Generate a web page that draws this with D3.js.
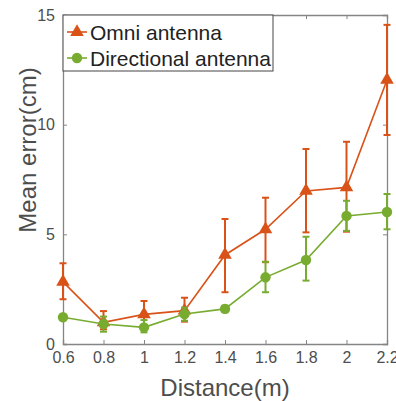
<!DOCTYPE html>
<html><head><meta charset="utf-8">
<script src="https://cdn.jsdelivr.net/npm/d3@7"></script>
<style>body{margin:0;background:#fff}svg{display:block}text{font-family:"Liberation Sans",Arial,sans-serif}</style>
</head><body><svg id="c" width="396" height="401"></svg>
<script>
const distances = [0.6, 0.8, 1.0, 1.2, 1.4, 1.6, 1.8, 2.0, 2.2];
const omniMean = [2.83, 0.99, 1.35, 1.52, 4.06, 5.23, 6.98, 7.14, 12.04];
const omniLow  = [2.04, 0.67, 0.75, 1.02, 2.36, 3.73, 5.09, 5.12, 9.53];
const omniHigh = [3.68, 1.50, 1.96, 2.11, 5.70, 6.67, 8.89, 9.22, 14.55];
const dirMean = [1.22, 0.91, 0.76, 1.37, 1.60, 3.04, 3.83, 5.84, 6.02];
const dirLow  = [1.12, 0.56, 0.53, 1.06, 1.45, 2.36, 2.89, 5.16, 5.23];
const dirHigh = [1.32, 1.25, 1.09, 1.66, 1.75, 3.75, 4.89, 6.53, 6.84];
const xTicks = [0.6, 0.8, 1, 1.2, 1.4, 1.6, 1.8, 2, 2.2];
const yTicks = [0, 5, 10, 15];
const seriesNames = ["Omni antenna", "Directional antenna"];
const colors = ["#D95319", "#77AC30"];

const svg = d3.select("#c");
const m = {l: 63, r: 387, t: 15, b: 344};
const x = d3.scaleLinear().domain([0.6, 2.2]).range([m.l, m.r]);
const y = d3.scaleLinear().domain([0, 15]).range([m.b, m.t]);
const axisCol = "#858585", labCol = "#4d4d4d";

const gx = svg.append("g").attr("transform", `translate(0,${m.b})`)
  .call(d3.axisBottom(x).tickValues(xTicks).tickSize(-4).tickPadding(8).tickFormat(d3.format("~g")));
const gxt = svg.append("g").attr("transform", `translate(0,${m.t})`)
  .call(d3.axisTop(x).tickValues(xTicks).tickSize(-4).tickFormat(""));
const gy = svg.append("g").attr("transform", `translate(${m.l},0)`)
  .call(d3.axisLeft(y).tickValues(yTicks).tickSize(-4).tickPadding(8));
const gyr = svg.append("g").attr("transform", `translate(${m.r},0)`)
  .call(d3.axisRight(y).tickValues(yTicks).tickSize(-4).tickFormat(""));
[gx, gxt, gy, gyr].forEach(g => {
  g.selectAll("path.domain").attr("stroke", axisCol).attr("stroke-width", 1.3);
  g.selectAll(".tick line").attr("stroke", axisCol).attr("stroke-width", 1);
  g.selectAll(".tick text").attr("fill", labCol).attr("font-size", 16).attr("font-family", '"Liberation Sans",Arial,sans-serif');
});

svg.append("text").attr("x", (m.l + m.r) / 2).attr("y", 396).attr("text-anchor", "middle")
  .attr("font-size", 24).attr("fill", labCol).text("Distance(m)");
svg.append("text").attr("transform", "translate(36,150) rotate(-90)").attr("text-anchor", "middle")
  .attr("font-size", 24).attr("fill", labCol).text("Mean error(cm)");

const series = [
  {mean: omniMean, lo: omniLow, hi: omniHigh, col: colors[0], marker: "tri"},
  {mean: dirMean, lo: dirLow, hi: dirHigh, col: colors[1], marker: "circ"}
];
const line = d3.line().x((d, i) => x(distances[i])).y(d => y(d));
const tri = d3.symbol().type(d3.symbolTriangle).size(80);

series.forEach(s => {
  const g = svg.append("g");
  g.append("path").datum(s.mean).attr("d", line).attr("fill", "none")
    .attr("stroke", s.col).attr("stroke-width", 1.6);
  distances.forEach((dx, i) => {
    const cx = x(dx);
    g.append("line").attr("x1", cx).attr("x2", cx).attr("y1", y(s.lo[i])).attr("y2", y(s.hi[i]))
      .attr("stroke", s.col).attr("stroke-width", 2);
    [s.lo[i], s.hi[i]].forEach(v => g.append("line").attr("x1", cx - 3.5).attr("x2", cx + 3.5)
      .attr("y1", y(v)).attr("y2", y(v)).attr("stroke", s.col).attr("stroke-width", 2));
    if (s.marker === "tri") g.append("path").attr("d", tri).attr("transform", `translate(${cx},${y(s.mean[i])})`).attr("fill", s.col);
    else g.append("circle").attr("cx", cx).attr("cy", y(s.mean[i])).attr("r", 5.2).attr("fill", s.col);
  });
});

const lg = svg.append("g");
lg.append("rect").attr("x", m.l).attr("y", m.t).attr("width", 210).attr("height", 56)
  .attr("fill", "#fff").attr("stroke", "#444").attr("stroke-width", 1);
seriesNames.forEach((n, i) => {
  const cy = 32 + i * 26;
  lg.append("line").attr("x1", 67).attr("x2", 87).attr("y1", cy).attr("y2", cy)
    .attr("stroke", colors[i]).attr("stroke-width", 1.6);
  if (i === 0) lg.append("path").attr("d", tri).attr("transform", `translate(77,${cy})`).attr("fill", colors[i]);
  else lg.append("circle").attr("cx", 77).attr("cy", cy).attr("r", 5.2).attr("fill", colors[i]);
  lg.append("text").attr("x", 90).attr("y", cy + 7.5).attr("font-size", 21).attr("fill", "#222").text(n);
});
</script></body></html>
